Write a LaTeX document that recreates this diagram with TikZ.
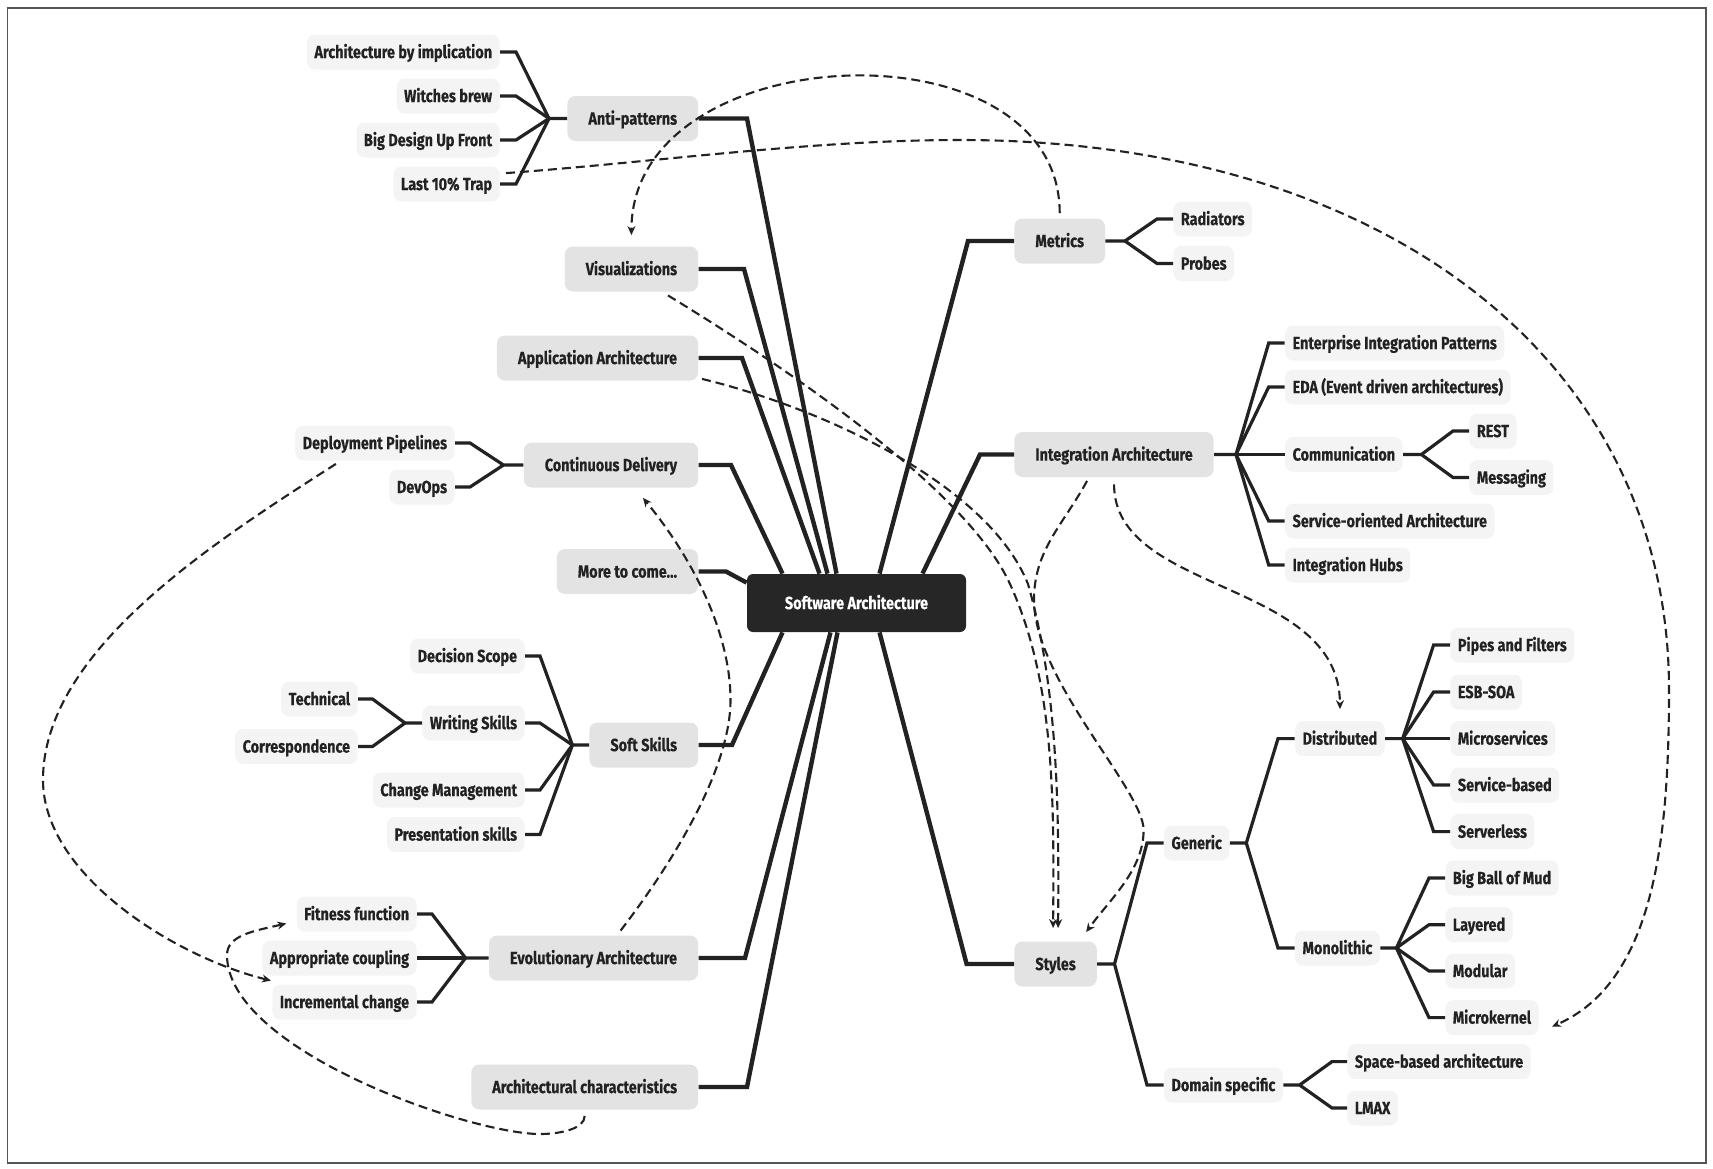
\documentclass[tikz,border=0pt]{standalone}
\usepackage{fontspec}
\setmainfont{Fira Sans}[FakeStretch=0.82, FakeBold=0.35]
\usetikzlibrary{arrows.meta,calc}

\definecolor{ink}{HTML}{222222}
\definecolor{hubfill}{HTML}{262626}
\definecolor{topicfill}{HTML}{E3E3E3}
\definecolor{leaffill}{HTML}{F4F4F4}
\definecolor{framegray}{HTML}{555555}

\begin{document}
\begin{tikzpicture}[>={Stealth[length=4.5pt,width=4pt]}, x=0.5pt, y=-0.5pt,
    font=\fontsize{8.8}{10}\selectfont\bfseries,
    hub/.style={fill=hubfill, text=white, rounded corners=3pt, minimum width=109.5pt,
        minimum height=29pt, inner sep=0pt, text height=7.6pt, text depth=1.5pt},
    topic/.style={fill=topicfill, text=ink, rounded corners=4pt, minimum height=22.5pt,
        inner xsep=10.5pt, inner ysep=0pt, text height=7.6pt, text depth=1.5pt},
    leaf/.style={fill=leaffill, text=ink, rounded corners=4pt, minimum height=17.5pt,
        inner xsep=3.75pt, inner ysep=0pt, text height=7.6pt, text depth=1.5pt},
    limb/.style={draw=ink, line width=2.2pt},
    twig/.style={draw=ink, line width=1.6pt},
    link/.style={draw=ink, line width=1.05pt, dash pattern=on 4.5pt off 2.5pt, ->}]

    \useasboundingbox (0,0) rectangle (1713,1168);
    \draw[framegray, line width=0.75pt] (7.5,8) rectangle (1706,1163);

    % centre
    \node[hub] (hub) at (856.5,603) {Software Architecture};

    % first level, left
    \node[topic, anchor=east] (anti)  at (698.5,118.5) {Anti-patterns};
    \node[topic, anchor=east] (vis)   at (698.5,269)   {Visualizations};
    \node[topic, anchor=east] (app)   at (698.5,358)   {Application Architecture};
    \node[topic, anchor=east] (cd)    at (698.5,465)   {Continuous Delivery};
    \node[topic, anchor=east] (more)  at (698.5,571.5) {More to come…};
    \node[topic, anchor=east] (soft)  at (698.5,745)   {Soft Skills};
    \node[topic, anchor=east] (evol)  at (698.5,958)   {Evolutionary Architecture};
    \node[topic, anchor=east] (achar) at (698.5,1087)  {Architectural characteristics};

    % first level, right
    \node[topic, anchor=west] (metrics) at (1014,241)   {Metrics};
    \node[topic, anchor=west] (integ)   at (1014,454.5) {Integration Architecture};
    \node[topic, anchor=west] (styles)  at (1014,964)   {Styles};

    % leaves, left
    \node[leaf, anchor=east] (aimp)   at (500,52)  {Architecture by implication};
    \node[leaf, anchor=east] (witch)  at (500,96)  {Witches brew};
    \node[leaf, anchor=east] (bduf)   at (500,140) {Big Design Up Front};
    \node[leaf, anchor=east] (trap)   at (500,184) {Last 10\% Trap};
    \node[leaf, anchor=east] (deploy) at (455,443) {Deployment Pipelines};
    \node[leaf, anchor=east] (devops) at (455,487) {DevOps};
    \node[leaf, anchor=east] (scope)   at (525,656)   {Decision Scope};
    \node[leaf, anchor=east] (writing) at (525,723)   {Writing Skills};
    \node[leaf, anchor=east] (change)  at (525,790)   {Change Management};
    \node[leaf, anchor=east] (present) at (525,834.5) {Presentation skills};
    \node[leaf, anchor=east] (tech) at (358,699)   {Technical};
    \node[leaf, anchor=east] (corr) at (358,746.5) {Correspondence};
    \node[leaf, anchor=east] (fit)  at (417,914)  {Fitness function};
    \node[leaf, anchor=east] (coup) at (417,958)  {Appropriate coupling};
    \node[leaf, anchor=east] (incr) at (417,1002) {Incremental change};

    % leaves, right
    \node[leaf, anchor=west] (rad)    at (1173,219)   {Radiators};
    \node[leaf, anchor=west] (probes) at (1173,263.5) {Probes};
    \node[leaf, anchor=west] (eip)  at (1284.7,343)   {Enterprise Integration Patterns};
    \node[leaf, anchor=west] (eda)  at (1284.7,387)   {EDA (Event driven architectures)};
    \node[leaf, anchor=west] (comm) at (1284.7,454.5) {Communication};
    \node[leaf, anchor=west] (soa)  at (1284.7,521)   {Service-oriented Architecture};
    \node[leaf, anchor=west] (hubs) at (1284.7,565)   {Integration Hubs};
    \node[leaf, anchor=west] (rest) at (1469,431)   {REST};
    \node[leaf, anchor=west] (msg)  at (1469,477.5) {Messaging};
    \node[leaf, anchor=west] (generic) at (1163.6,843)  {Generic};
    \node[leaf, anchor=west] (domain)  at (1163.6,1085) {Domain specific};
    \node[leaf, anchor=west] (dist) at (1294.7,738.6) {Distributed};
    \node[leaf, anchor=west] (mono) at (1294.7,948)   {Monolithic};
    \node[leaf, anchor=west] (pipes)  at (1450,645)   {Pipes and Filters};
    \node[leaf, anchor=west] (esb)    at (1450,692)   {ESB-SOA};
    \node[leaf, anchor=west] (micro)  at (1450,738.6) {Microservices};
    \node[leaf, anchor=west] (sbased) at (1450,785)   {Service-based};
    \node[leaf, anchor=west] (sless)  at (1450,831.6) {Serverless};
    \node[leaf, anchor=west] (bbom)    at (1445,878)    {Big Ball of Mud};
    \node[leaf, anchor=west] (layer)   at (1445,924.7)  {Layered};
    \node[leaf, anchor=west] (modular) at (1445,971)    {Modular};
    \node[leaf, anchor=west] (mkern)   at (1445,1017.6) {Microkernel};
    \node[leaf, anchor=west] (space) at (1347,1061.6) {Space-based architecture};
    \node[leaf, anchor=west] (lmax)  at (1347,1108)   {LMAX};

    % junctions
    \coordinate (jAnti)    at (549,118.5);
    \coordinate (jCd)      at (503.5,465);
    \coordinate (jSoft)    at (572.4,745);
    \coordinate (jWrite)   at (405,723);
    \coordinate (jEvol)    at (465.5,958);
    \coordinate (jMetrics) at (1125,241);
    \coordinate (jInteg)   at (1236,454.5);
    \coordinate (jComm)    at (1421.4,454.5);
    \coordinate (jStyles)  at (1114.5,964);
    \coordinate (jGeneric) at (1246.3,843);
    \coordinate (jDist)    at (1402.7,738.6);
    \coordinate (jMono)    at (1396.4,948);
    \coordinate (jDomain)  at (1299.6,1085);

    % hub to first level
    \draw[limb] (anti.east)  -- ++(48.5,0) -- ($(hub.north)+(-20,0)$);
    \draw[limb] (vis.east)   -- ++(45.5,0) -- ($(hub.north)+(-29,0)$);
    \draw[limb] (app.east)   -- ++(43.5,0) -- ($(hub.north)+(-37,0)$);
    \draw[limb] (cd.east)    -- ++(32.5,0) -- ($(hub.north)+(-74,0)$);
    \draw[limb] (more.east)  -- ++(27.5,0) -- ($(hub.north west)+(0,9)$);
    \draw[limb] (soft.east)  -- ++(33.5,0) -- ($(hub.south)+(-74,0)$);
    \draw[limb] (evol.east)  -- ++(46.5,0) -- ($(hub.south)+(-26,0)$);
    \draw[limb] (achar.east) -- ++(48.5,0) -- ($(hub.south)+(-19,0)$);
    \draw[limb] (metrics.west) -- ++(-46,0)   -- ($(hub.north)+(23,0)$);
    \draw[limb] (integ.west)   -- ++(-34,0)   -- ($(hub.north)+(66,0)$);
    \draw[limb] (styles.west)  -- ++(-47.4,0) -- ($(hub.south)+(23,0)$);

    % left branches
    \draw[twig] (aimp.east)  -- ++(16,0) -- (jAnti) -- (anti.west);
    \draw[twig] (witch.east) -- ++(16,0) -- (jAnti);
    \draw[twig] (bduf.east)  -- ++(16,0) -- (jAnti);
    \draw[twig] (trap.east)  -- ++(16,0) -- (jAnti);
    \draw[twig] (deploy.east) -- ++(15,0) -- (jCd) -- (cd.west);
    \draw[twig] (devops.east) -- ++(15,0) -- (jCd);
    \draw[twig] (scope.east)   -- ++(15,0) -- (jSoft) -- (soft.west);
    \draw[twig] (writing.east) -- ++(15,0) -- (jSoft);
    \draw[twig] (change.east)  -- ++(15,0) -- (jSoft);
    \draw[twig] (present.east) -- ++(15,0) -- (jSoft);
    \draw[twig] (tech.east) -- ++(14.5,0) -- (jWrite) -- (writing.west);
    \draw[twig] (corr.east) -- ++(14.5,0) -- (jWrite);
    \draw[twig] (fit.east)  -- ++(15,0) -- (jEvol) -- (evol.west);
    \draw[twig] (coup.east) -- ++(15,0) -- (jEvol);
    \draw[twig] (incr.east) -- ++(15,0) -- (jEvol);

    % right branches
    \draw[twig] (rad.west)    -- ++(-16,0) -- (jMetrics) -- (metrics.east);
    \draw[twig] (probes.west) -- ++(-16,0) -- (jMetrics);
    \draw[twig] (eip.west)  -- ++(-16,0) -- (jInteg) -- (integ.east);
    \draw[twig] (eda.west)  -- ++(-16,0) -- (jInteg);
    \draw[twig] (comm.west) -- ++(-16,0) -- (jInteg);
    \draw[twig] (soa.west)  -- ++(-16,0) -- (jInteg);
    \draw[twig] (hubs.west) -- ++(-16,0) -- (jInteg);
    \draw[twig] (rest.west) -- ++(-16,0) -- (jComm) -- (comm.east);
    \draw[twig] (msg.west)  -- ++(-16,0) -- (jComm);
    \draw[twig] (generic.west) -- ++(-16.6,0) -- (jStyles) -- (styles.east);
    \draw[twig] (domain.west)  -- ++(-16.6,0) -- (jStyles);
    \draw[twig] (dist.west) -- ++(-16.7,0) -- (jGeneric) -- (generic.east);
    \draw[twig] (mono.west) -- ++(-16.7,0) -- (jGeneric);
    \draw[twig] (pipes.west)  -- ++(-16.4,0) -- (jDist) -- (dist.east);
    \draw[twig] (esb.west)    -- ++(-16.4,0) -- (jDist);
    \draw[twig] (micro.west)  -- ++(-16.4,0) -- (jDist);
    \draw[twig] (sbased.west) -- ++(-16.4,0) -- (jDist);
    \draw[twig] (sless.west)  -- ++(-16.4,0) -- (jDist);
    \draw[twig] (bbom.west)    -- ++(-16,0) -- (jMono) -- (mono.east);
    \draw[twig] (layer.west)   -- ++(-16,0) -- (jMono);
    \draw[twig] (modular.west) -- ++(-16,0) -- (jMono);
    \draw[twig] (mkern.west)   -- ++(-16,0) -- (jMono);
    \draw[twig] (space.west) -- ++(-15,0) -- (jDomain) -- (domain.east);
    \draw[twig] (lmax.west)  -- ++(-15,0) -- (jDomain);

    % dashed cross links
    \draw[link, shorten <=2.5pt, shorten >=5.5pt] (metrics.north)
        .. controls +(0,-200) and +(0,-210) .. (vis.north);
    \draw[link] ($(trap.north east)+(6,7)$)
        .. controls +(150,-11) and (810,140) .. (960,140)
        .. controls (1385,140) and (1669,360) .. (1669,690)
        .. controls (1669,840) and (1654,982) .. ($(mkern.east)+(13,9)$);
    \draw[link] ($(vis.south)+(36.5,3.5)$)
        .. controls +(100,61) and (965,485) .. (1010,584)
        .. controls (1055,683) and (1054,800) .. ($(styles.north)+(-2.5,-13)$);
    \draw[link] ($(app.south east)+(3.5,-2)$)
        .. controls +(120,29) and (988,484) .. (1028,584)
        .. controls (1058,689) and (1059,810) .. ($(styles.north)+(2.5,-13)$);
    \draw[link] ($(integ.south)+(-27,3.5)$)
        .. controls +(-24,44) and (1034,550) .. (1034,600)
        .. controls (1034,680) and (1143.6,790) .. (1143.6,830)
        .. controls (1143.6,870) and (1110,899) .. ($(styles.north east)+(-11,-9)$);
    \draw[link] ($(integ.south)+(0,7)$)
        .. controls +(0,110) and +(0,-130) .. ($(dist.north)+(0,-11.5)$);
    \draw[link] ($(evol.north)+(27,-4.5)$)
        .. controls +(50,-65) and (730.5,770) .. (730.5,700)
        .. controls (730.5,630) and (690,555) .. ($(cd.south)+(32,10)$);
    \draw[link] ($(deploy.south)+(-39,3)$)
        .. controls +(-120,77) and (43,650) .. (43,780)
        .. controls (43,875) and (175,957) .. ($(incr.north west)+(-1,-3.5)$);
    \draw[link] ($(achar.south)+(0,6)$)
        .. controls +(0,13) and (560,1134) .. (540,1134)
        .. controls (470,1134) and (227,1050) .. (227,955)
        .. controls (227,935) and (255,930.7) .. ($(fit.west)+(-10,9.5)$);
\end{tikzpicture}
\end{document}
